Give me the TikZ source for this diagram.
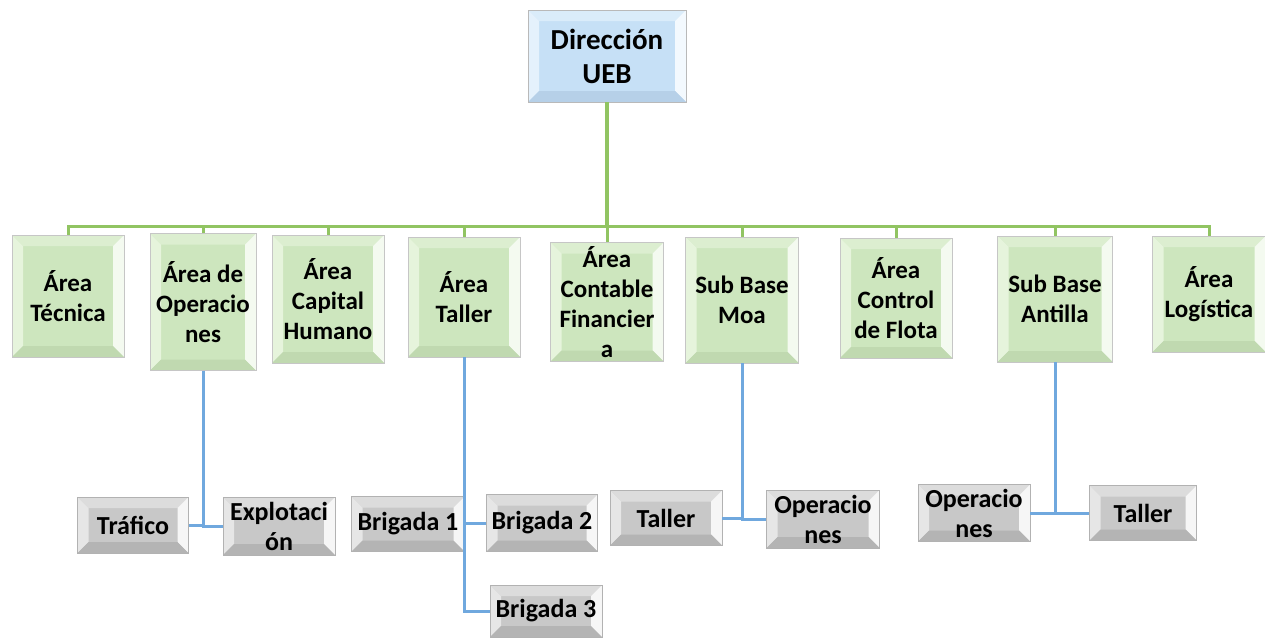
\documentclass[tikz,border=0pt]{standalone}
\usepackage{fontspec}
\setmainfont{Carlito}

% colores de las cajas
\definecolor{gface}{RGB}{205,230,190}
\definecolor{gtop}{RGB}{220,238,208}
\definecolor{gleft}{RGB}{230,244,220}
\definecolor{gright}{RGB}{244,250,240}
\definecolor{gbot}{RGB}{192,217,176}
\definecolor{bface}{RGB}{198,224,246}
\definecolor{btop}{RGB}{218,236,250}
\definecolor{bleft}{RGB}{228,241,252}
\definecolor{bright}{RGB}{243,249,254}
\definecolor{bbot}{RGB}{182,208,232}
\definecolor{kface}{RGB}{200,200,200}
\definecolor{ktop}{RGB}{220,220,220}
\definecolor{kleft}{RGB}{230,230,230}
\definecolor{kright}{RGB}{246,246,246}
\definecolor{kbot}{RGB}{180,180,180}
\definecolor{lineagreen}{RGB}{145,196,98}
\definecolor{lineablue}{RGB}{112,168,222}

\newcommand\bevw{11pt}
\newcommand\bevelfaces[4]{%
  \coordinate (pnw) at (path picture bounding box.north west);
  \coordinate (pne) at (path picture bounding box.north east);
  \coordinate (pse) at (path picture bounding box.south east);
  \coordinate (psw) at (path picture bounding box.south west);
  \fill[#1] (pnw) -- (pne) -- ([shift={(-\bevw,-\bevw)}]pne) -- ([shift={(\bevw,-\bevw)}]pnw) -- cycle;
  \fill[#2] (pnw) -- (psw) -- ([shift={(\bevw,\bevw)}]psw) -- ([shift={(\bevw,-\bevw)}]pnw) -- cycle;
  \fill[#3] (pne) -- (pse) -- ([shift={(-\bevw,\bevw)}]pse) -- ([shift={(-\bevw,-\bevw)}]pne) -- cycle;
  \fill[#4] (psw) -- (pse) -- ([shift={(-\bevw,\bevw)}]pse) -- ([shift={(\bevw,\bevw)}]psw) -- cycle;
}

\tikzset{
  bevelbox/.style={rectangle, inner sep=0pt, align=center, font=\bfseries\fontsize{25}{30}\selectfont},
  dirbox/.style={bevelbox, fill=bface, draw=gray!55, line width=0.6pt,
    path picture={\bevelfaces{btop}{bleft}{bright}{bbot}}, font=\bfseries\fontsize{29}{34}\selectfont},
  areabox/.style={bevelbox, fill=gface, draw=gray!45, line width=0.6pt,
    path picture={\bevelfaces{gtop}{gleft}{gright}{gbot}}},
  subbox/.style={bevelbox, fill=kface, draw=gray!60, line width=0.6pt,
    path picture={\bevelfaces{ktop}{kleft}{kright}{kbot}}, font=\bfseries\fontsize{26}{30}\selectfont},
  ramaverde/.style={draw=lineagreen, line width=3pt},
  ramaazul/.style={draw=lineablue, line width=3pt}
}

\begin{document}
\begin{tikzpicture}[x=1pt, y=-1pt]
\useasboundingbox (0,0) rectangle (1265,637);

% dirección
\node[dirbox, minimum width=158pt, minimum height=92pt] (dir) at (607,56) {Dirección\\UEB};

% áreas
\node[areabox, minimum width=112pt, minimum height=122pt] (tec) at (68,296) {Área\\Técnica};
\node[areabox, minimum width=106pt, minimum height=137pt] (ope) at (203,302) {Área de\\Operacio\\nes};
\node[areabox, minimum width=112pt, minimum height=128pt] (cap) at (328,299) {Área\\Capital\\Humano};
\node[areabox, minimum width=112pt, minimum height=120pt] (tal) at (464,297) {Área\\Taller};
\node[areabox, minimum width=113pt, minimum height=119pt] (con) at (607,302) {Área\\Contable\\Financier\\a};
\node[areabox, minimum width=113pt, minimum height=126pt] (moa) at (742,300) {Sub Base\\Moa};
\node[areabox, minimum width=112pt, minimum height=120pt] (flo) at (896,298) {Área\\Control\\de Flota};
\node[areabox, minimum width=115pt, minimum height=126pt] (ant) at (1055,299) {Sub Base\\Antilla};
\node[areabox, minimum width=113pt, minimum height=116pt] (log) at (1209,294) {Área\\Logística};

% subdivisiones
\node[subbox, minimum width=111pt, minimum height=56pt] (trf) at (133,525) {Tráfico};
\node[subbox, minimum width=112pt, minimum height=58pt] (exp) at (279,526) {Explotaci\\ón};
\node[subbox, minimum width=113pt, minimum height=55pt] (br1) at (408,524) {Brigada 1};
\node[subbox, minimum width=111pt, minimum height=57pt] (br2) at (542,523) {Brigada 2};
\node[subbox, minimum width=112pt, minimum height=52pt] (br3) at (546,611) {Brigada 3};
\node[subbox, minimum width=112pt, minimum height=55pt] (mtal) at (666,518) {Taller};
\node[subbox, minimum width=113pt, minimum height=58pt] (mope) at (823,519) {Operacio\\nes};
\node[subbox, minimum width=112pt, minimum height=57pt] (aope) at (974,513) {Operacio\\nes};
\node[subbox, minimum width=107pt, minimum height=55pt] (atal) at (1143,513) {Taller};

% ramas verdes
\coordinate (bus) at (607,226);
\draw[ramaverde, line width=4pt] (dir) -- (bus);
\foreach \n in {tec,ope,cap,tal,con,moa,flo,ant,log}
  \draw[ramaverde] (\n.north) |- (bus);

% ramas azules
\draw[ramaazul] (ope.south) |- (trf.east);
\draw[ramaazul] (ope.south) |- (exp.west);
\draw[ramaazul] (tal.south) |- (br2.west);
\draw[ramaazul] (tal.south) |- (br3.west);
\draw[ramaazul] (moa.south) |- (mtal.east);
\draw[ramaazul] (moa.south) |- (mope.west);
\draw[ramaazul] (ant.south) |- (aope.east);
\draw[ramaazul] (ant.south) |- (atal.west);

\end{tikzpicture}
\end{document}
